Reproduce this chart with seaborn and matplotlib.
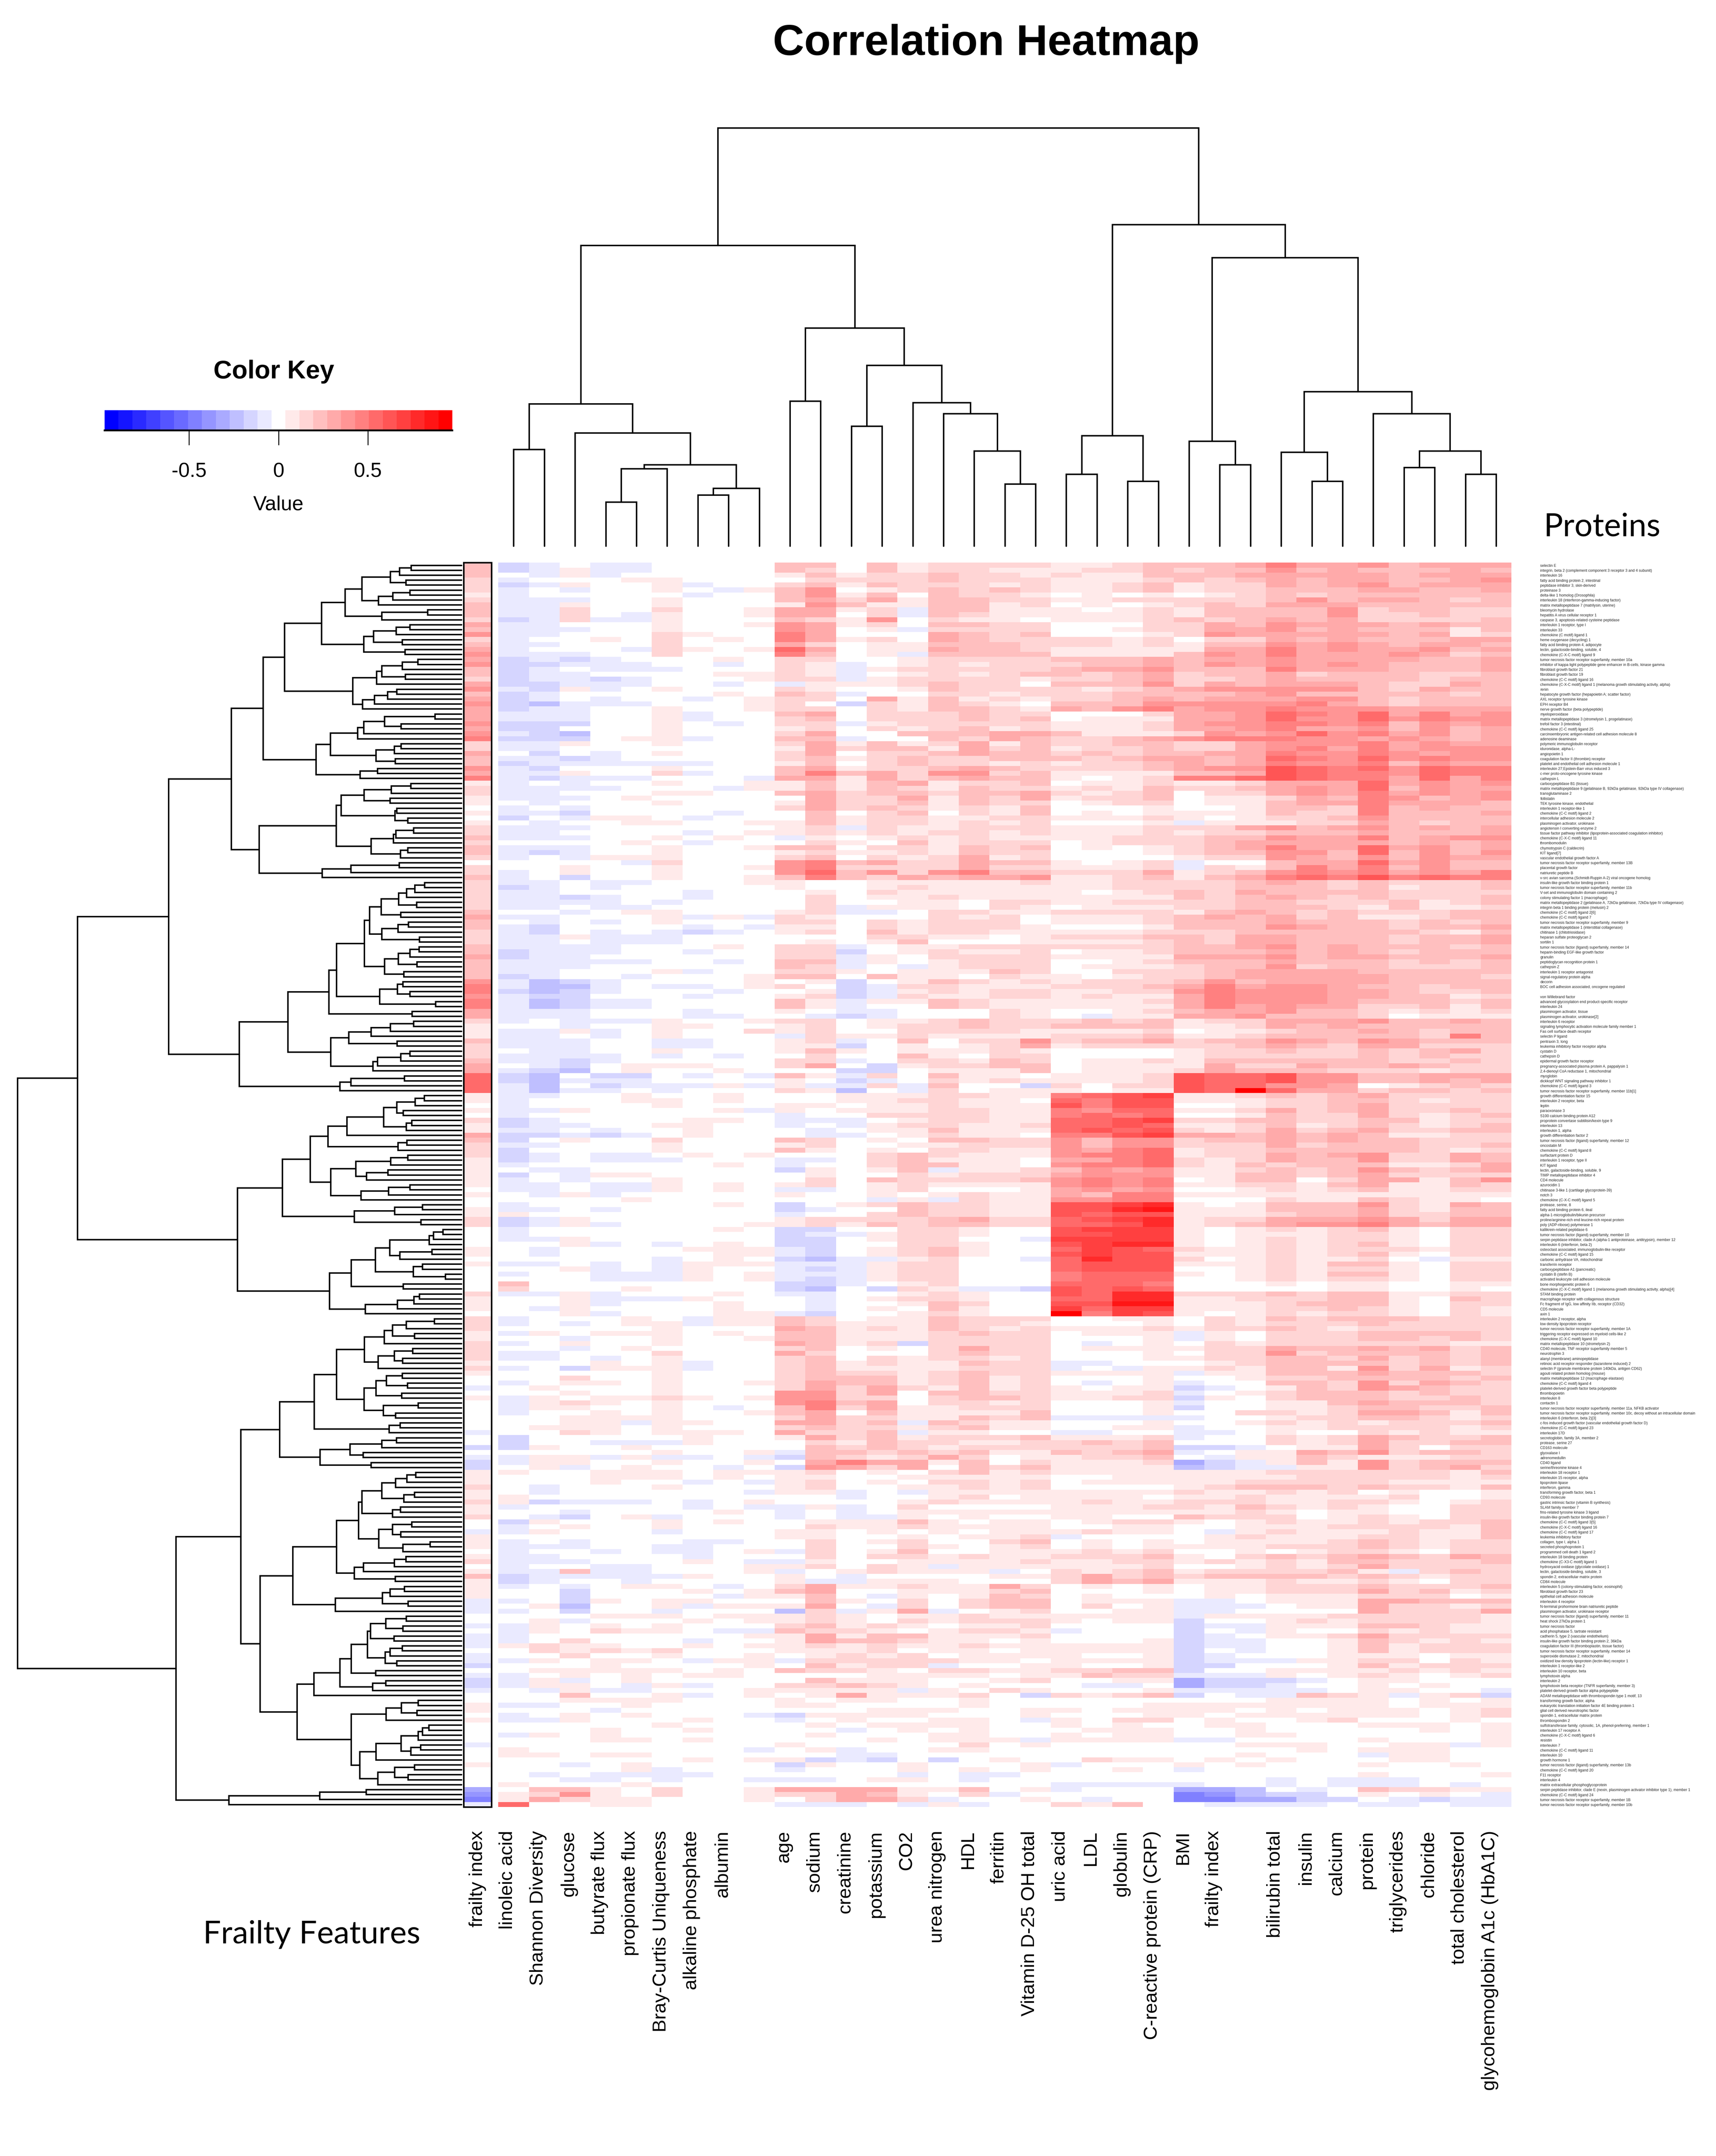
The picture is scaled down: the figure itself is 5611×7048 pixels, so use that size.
import numpy as np
import pandas as pd
import matplotlib
matplotlib.use("Agg")
import matplotlib.pyplot as plt
from matplotlib.colors import ListedColormap
from matplotlib.transforms import ScaledTranslation
import seaborn as sns

# column labels, the two blanks are unlabelled columns in the original
col_labels = ["linoleic acid", "Shannon Diversity", "glucose", "butyrate flux", "propionate flux",
              "Bray-Curtis Uniqueness", "alkaline phosphate", "albumin", "", "age", "sodium", "creatinine",
              "potassium", "CO2", "urea nitrogen", "HDL", "ferritin", "Vitamin D-25 OH total", "uric acid",
              "LDL", "globulin", "C-reactive protein (CRP)", "BMI", "frailty index", "", "bilirubin total",
              "insulin", "calcium", "protein", "triglycerides", "chloride", "total cholesterol",
              "glycohemoglobin A1c (HbA1C)"]

row_labels = [
    "selectin E", "integrin, beta 2 (complement component 3 receptor 3 and 4 subunit)", "interleukin 16",
    "fatty acid binding protein 2, intestinal", "peptidase inhibitor 3, skin-derived", "proteinase 3",
    "delta-like 1 homolog (Drosophila)", "interleukin 18 (interferon-gamma-inducing factor)",
    "matrix metallopeptidase 7 (matrilysin, uterine)", "bleomycin hydrolase", "hepatitis A virus cellular receptor 1",
    "caspase 3, apoptosis-related cysteine peptidase", "interleukin 1 receptor, type I", "interleukin 33",
    "chemokine (C motif) ligand 1", "heme oxygenase (decycling) 1", "fatty acid binding protein 4, adipocyte",
    "lectin, galactoside-binding, soluble, 4", "chemokine (C-X-C motif) ligand 9",
    "tumor necrosis factor receptor superfamily, member 10a",
    "inhibitor of kappa light polypeptide gene enhancer in B-cells, kinase gamma", "fibroblast growth factor 21",
    "fibroblast growth factor 19", "chemokine (C-C motif) ligand 16",
    "chemokine (C-X-C motif) ligand 1 (melanoma growth stimulating activity, alpha)", "renin",
    "hepatocyte growth factor (hepapoietin A; scatter factor)", "AXL receptor tyrosine kinase",
    "EPH receptor B4", "nerve growth factor (beta polypeptide)", "myeloperoxidase",
    "matrix metallopeptidase 3 (stromelysin 1, progelatinase)", "trefoil factor 3 (intestinal)",
    "chemokine (C-C motif) ligand 25", "carcinoembryonic antigen-related cell adhesion molecule 8",
    "adenosine deaminase", "polymeric immunoglobulin receptor", "iduronidase, alpha-L-", "angiopoietin 1",
    "coagulation factor II (thrombin) receptor", "platelet and endothelial cell adhesion molecule 1",
    "interleukin 27;Epstein-Barr virus induced 3", "c-mer proto-oncogene tyrosine kinase", "cathepsin L",
    "carboxypeptidase B1 (tissue)", "matrix metallopeptidase 9 (gelatinase B, 92kDa gelatinase, 92kDa type IV collagenase)",
    "transglutaminase 2", "follistatin", "TEK tyrosine kinase, endothelial", "interleukin 1 receptor-like 1",
    "chemokine (C-C motif) ligand 2", "intercellular adhesion molecule 2", "plasminogen activator, urokinase",
    "angiotensin I converting enzyme 2", "tissue factor pathway inhibitor (lipoprotein-associated coagulation inhibitor)",
    "chemokine (C-X-C motif) ligand 11", "thrombomodulin", "chymotrypsin C (caldecrin)", "KIT ligand[7]",
    "vascular endothelial growth factor A", "tumor necrosis factor receptor superfamily, member 13B",
    "placental growth factor", "natriuretic peptide B", "v-src avian sarcoma (Schmidt-Ruppin A-2) viral oncogene homolog",
    "insulin-like growth factor binding protein 1", "tumor necrosis factor receptor superfamily, member 11b",
    "V-set and immunoglobulin domain containing 2", "colony stimulating factor 1 (macrophage)",
    "matrix metallopeptidase 2 (gelatinase A, 72kDa gelatinase, 72kDa type IV collagenase)",
    "integrin beta 1 binding protein (melusin) 2", "chemokine (C-C motif) ligand 2[6]", "chemokine (C-C motif) ligand 7",
    "tumor necrosis factor receptor superfamily, member 9", "matrix metallopeptidase 1 (interstitial collagenase)",
    "chitinase 1 (chitotriosidase)", "heparan sulfate proteoglycan 2", "sortilin 1",
    "tumor necrosis factor (ligand) superfamily, member 14", "heparin-binding EGF-like growth factor", "granulin",
    "peptidoglycan recognition protein 1", "cathepsin Z", "interleukin 1 receptor antagonist",
    "signal-regulatory protein alpha", "decorin", "BOC cell adhesion associated, oncogene regulated", "",
    "von Willebrand factor", "advanced glycosylation end product-specific receptor", "interleukin 24",
    "plasminogen activator, tissue", "plasminogen activator, urokinase[2]", "interleukin 6 receptor",
    "signaling lymphocytic activation molecule family member 1", "Fas cell surface death receptor", "selectin P ligand",
    "pentraxin 3, long", "leukemia inhibitory factor receptor alpha", "cystatin D", "cathepsin D",
    "epidermal growth factor receptor", "pregnancy-associated plasma protein A, pappalysin 1",
    "2,4-dienoyl CoA reductase 1, mitochondrial", "myoglobin", "dickkopf WNT signaling pathway inhibitor 1",
    "chemokine (C-C motif) ligand 3", "tumor necrosis factor receptor superfamily, member 11b[1]",
    "growth differentiation factor 15", "interleukin 2 receptor, beta", "leptin", "paraoxonase 3",
    "S100 calcium binding protein A12", "proprotein convertase subtilisin/kexin type 9", "interleukin 13",
    "interleukin 1, alpha", "growth differentiation factor 2", "tumor necrosis factor (ligand) superfamily, member 12",
    "oncostatin M", "chemokine (C-C motif) ligand 8", "surfactant protein D", "interleukin 1 receptor, type II",
    "KIT ligand", "lectin, galactoside-binding, soluble, 9", "TIMP metallopeptidase inhibitor 4", "CD4 molecule",
    "azurocidin 1", "chitinase 3-like 1 (cartilage glycoprotein-39)", "notch 3", "chemokine (C-X-C motif) ligand 5",
    "protease, serine, 8", "fatty acid binding protein 6, ileal", "alpha-1-microglobulin/bikunin precursor",
    "proline/arginine-rich end leucine-rich repeat protein", "poly (ADP-ribose) polymerase 1",
    "kallikrein-related peptidase 6", "tumor necrosis factor (ligand) superfamily, member 10",
    "serpin peptidase inhibitor, clade A (alpha-1 antiproteinase, antitrypsin), member 12",
    "interleukin 6 (interferon, beta 2)", "osteoclast associated, immunoglobulin-like receptor",
    "chemokine (C-C motif) ligand 15", "carbonic anhydrase VA, mitochondrial", "transferrin receptor",
    "carboxypeptidase A1 (pancreatic)", "cystatin B (stefin B)", "activated leukocyte cell adhesion molecule",
    "bone morphogenetic protein 6", "chemokine (C-X-C motif) ligand 1 (melanoma growth stimulating activity, alpha)[4]",
    "STAM binding protein", "macrophage receptor with collagenous structure",
    "Fc fragment of IgG, low affinity IIb, receptor (CD32)", "CD5 molecule", "axin 1", "interleukin 2 receptor, alpha",
    "low density lipoprotein receptor", "tumor necrosis factor receptor superfamily, member 1A",
    "triggering receptor expressed on myeloid cells-like 2", "chemokine (C-X-C motif) ligand 10",
    "matrix metallopeptidase 10 (stromelysin 2)", "CD40 molecule, TNF receptor superfamily member 5", "neurotrophin 3",
    "alanyl (membrane) aminopeptidase", "retinoic acid receptor responder (tazarotene induced) 2",
    "selectin P (granule membrane protein 140kDa, antigen CD62)", "agouti related protein homolog (mouse)",
    "matrix metallopeptidase 12 (macrophage elastase)", "chemokine (C-C motif) ligand 4",
    "platelet-derived growth factor beta polypeptide", "thrombopoietin", "interleukin 8", "contactin 1",
    "tumor necrosis factor receptor superfamily, member 11a, NFKB activator",
    "tumor necrosis factor receptor superfamily, member 10c, decoy without an intracellular domain",
    "interleukin 6 (interferon, beta 2)[3]", "c-fos induced growth factor (vascular endothelial growth factor D)",
    "chemokine (C-C motif) ligand 23", "interleukin 17D", "secretoglobin, family 3A, member 2", "protease, serine 27",
    "CD163 molecule", "glyoxalase I", "adrenomedullin", "CD40 ligand", "serine/threonine kinase 4",
    "interleukin 18 receptor 1", "interleukin 15 receptor, alpha", "lipoprotein lipase", "interferon, gamma",
    "transforming growth factor, beta 1", "CD93 molecule", "gastric intrinsic factor (vitamin B synthesis)",
    "SLAM family member 7", "fms-related tyrosine kinase 3 ligand", "insulin-like growth factor binding protein 7",
    "chemokine (C-C motif) ligand 3[5]", "chemokine (C-X-C motif) ligand 16", "chemokine (C-C motif) ligand 17",
    "leukemia inhibitory factor", "collagen, type I, alpha 1", "secreted phosphoprotein 1",
    "programmed cell death 1 ligand 2", "interleukin 18 binding protein", "chemokine (C-X3-C motif) ligand 1",
    "hydroxyacid oxidase (glycolate oxidase) 1", "lectin, galactoside-binding, soluble, 3",
    "spondin 2, extracellular matrix protein", "CD84 molecule", "interleukin 5 (colony-stimulating factor, eosinophil)",
    "fibroblast growth factor 23", "epithelial cell adhesion molecule", "interleukin 4 receptor",
    "N-terminal prohormone brain natriuretic peptide", "plasminogen activator, urokinase receptor",
    "tumor necrosis factor (ligand) superfamily, member 11", "heat shock 27kDa protein 1", "tumor necrosis factor",
    "acid phosphatase 5, tartrate resistant", "cadherin 5, type 2 (vascular endothelium)",
    "insulin-like growth factor binding protein 2, 36kDa", "coagulation factor III (thromboplastin, tissue factor)",
    "tumor necrosis factor receptor superfamily, member 14", "superoxide dismutase 2, mitochondrial",
    "oxidized low density lipoprotein (lectin-like) receptor 1", "interleukin 1 receptor-like 2",
    "interleukin 10 receptor, beta", "lymphotoxin alpha", "interleukin 2",
    "lymphotoxin beta receptor (TNFR superfamily, member 3)", "platelet-derived growth factor alpha polypeptide",
    "ADAM metallopeptidase with thrombospondin type 1 motif, 13", "transforming growth factor, alpha",
    "eukaryotic translation initiation factor 4E binding protein 1", "glial cell derived neurotrophic factor",
    "spondin 1, extracellular matrix protein", "thrombospondin 2",
    "sulfotransferase family, cytosolic, 1A, phenol-preferring, member 1", "interleukin 17 receptor A",
    "chemokine (C-X-C motif) ligand 6", "resistin", "interleukin 7", "chemokine (C-C motif) ligand 11", "interleukin 10",
    "growth hormone 1", "tumor necrosis factor (ligand) superfamily, member 13b", "chemokine (C-C motif) ligand 20",
    "F11 receptor", "interleukin 4", "matrix extracellular phosphoglycoprotein",
    "serpin peptidase inhibitor, clade E (nexin, plasminogen activator inhibitor type 1), member 1",
    "chemokine (C-C motif) ligand 24", "tumor necrosis factor receptor superfamily, member 1B",
    "tumor necrosis factor receptor superfamily, member 10b",
]

# cell values as colour key steps, 0-9 then a b c for +10..+12, A B C ... for -1 -2 -3 ...
rows_a = [
    "BA0AA0000330312222112333464453444", "BA1AA0000320312211122323353433343", "0A1A00000131223221211333444443444",
    "A00011000022223222111232343443345", "BA1001A00231322212112312243453444", "A0A0010A1350123232112312233344334",
    "A00000A00351303221010101232333333", "AAA001000342413322112222235344323", "AA1001000153113312010123244433333",
    "AA2002001" "4412A3311" "1012133" "33523322", "AA20A1001" "4402A3211" "1112133" "33522322",
    "BA2AA1000" "321502110" "1112323" "43422223", "AA0001001" "541203322" "0002243" "54443433",
    "AAA001000" "5401A2222" "0012244" "53433313", "AA0002100" "640004323" "0001254" "44443412",
    "A00102010" "641204322" "2212022" "43433344", "AA0002000" "420113332" "2212133" "54543443",
    "A000A2101" "740114332" "1111144" "64544534", "AAA002000" "6301A3333" "1111354" "64445423",
    "BABA00010" "220012222" "3334344" "54444334", "BBAAA00A0" "21A012122" "2334354" "54543334",
    "BA0AAA000" "21A122222" "3445333" "64443334", "BAA000011" "21A012123" "3234233" "42333223",
    "BAABA0001" "22A122221" "2234223" "43333233", "BBAAA00A0" "A11123220" "3335243" "44432243",
    "AB1A01000" "210013222" "2123455" "55532433", "BA0000010" "32A002212" "2233334" "53333323",
    "BA0A00A01" "220413121" "2234344" "45532333", "BCAAA0001" "20B213210" "3335555" "56432333",
    "BAA001001" "220213321" "4356455" "65554444", "AAA001A00" "340222322" "0002445" "76574645",
    "AAA001A00" "230222323" "0111445" "75575655", "BBB0010A0" "22A122222" "1112455" "66563545",
    "BB0001000" "120212312" "1112445" "64453534", "ABC001000" "240033344" "3111254" "57564534",
    "BBB011A00" "33A003243" "2234566" "65545434", "AA1001000" "241312413" "2233224" "55564544",
    "AA0000000" "142331423" "1223224" "56464555", "0B0A01000" "240223433" "2323344" "65565455",
    "AABA00000" "231232233" "3234434" "76575655", "BAAAAAA00" "130232212" "1223434" "65563544",
    "AB0001000" "341223432" "2223455" "87675766", "AA1002A00" "363425523" "1111334" "87665766",
    "ABAAA000A" "441423433" "1012667" "87664746", "A0A001001" "131341223" "0112112" "44474545",
    "AAAA000A1" "131321322" "1213223" "45473544", "AA0001100" "342332334" "2123022" "45464545",
    "AAA010000" "042241324" "1223011" "24365345", "0A0001000" "142231322" "0122011" "34464443",
    "A0A000000" "242321213" "0001001" "33263433", "AAB0000A0" "030230213" "0101111" "32263334",
    "B0A110A00" "031221122" "1112101" "22353333", "0A0011001" "131221212" "0001A11" "12243233",
    "AAA000000" "12A211222" "1112224" "53453434", "AA0000A01" "121212212" "1112122" "33343334",
    "AAA001010" "A10121211" "1122233" "54463455", "000010A00" "021031222" "0122234" "44443434",
    "AAA001001" "330221323" "0101234" "64474534", "ABA001000" "121121322" "0001233" "55373535",
    "A0A111000" "230212412" "0000122" "54353544", "0000A2000" "563422433" "1012A00" "34474533",
    "001001001" "562222422" "1112A21" "36463533", "A01001000" "573525633" "2224123" "56564546",
    "A0B001001" "363243445" "1123134" "67686766",
]
rows_b = [
    "AA0AA0001" "100111112" "1122223" "43232223", "BA0A00000" "100121111" "1122223" "33231223",
    "AA0000A00" "010211111" "1012324" "33332222", "AABA00A00" "020112111" "1111323" "43232223",
    "AAAA0A000" "020011022" "1122223" "32223123", "AA0AA0000" "02A111021" "0111223" "33213112",
    "00A011000" "12AA02211" "2222134" "32322233", "AA0001A1A" "210002120" "1112343" "42311233",
    "0A0A01000" "220212220" "1112333" "43332323", "AB0000A0A" "110212221" "0001333" "54332334",
    "AB0A0ABA0" "120312211" "1112223" "33333213", "AA1AAA000" "000221101" "2223324" "43332334",
    "AA0AAA000" "010130001" "1112324" "43332334", "AAAA00010" "22A011222" "2222334" "53433323",
    "BAAA00A00" "22B012112" "0112333" "43432333", "BAA000000" "22A102222" "1111444" "53443334",
    "AAAAA00A0" "33A101222" "0012333" "43332323", "AAA000000" "32A0A1222" "0111233" "52332223",
    "AA0001A00" "221011132" "0022234" "44433333", "BA00A0001" "330311021" "1012234" "44443332",
    "ACBA00001" "01B013212" "1222353" "44443333", "ACCA0AA01" "20BA22111" "2223464" "55433233",
    "BCBA000A0" "01BA12122" "1122565" "55443223", "ABB000A00" "12BA21122" "1211465" "55443312",
    "ACBAA0000" "31A113211" "1112465" "55433323", "ACBAA0000" "31A003211" "1111464" "54422313",
    "AAA000A00" "10AA00021" "0012344" "53321212", "AAA000AA0" "0ABA00021" "0A11445" "33320111",
    "A0AAA1001" "220112322" "2323122" "44453343", "00A001100" "120122322" "3333112" "43433333",
    "AA1A01002" "120022221" "1112011" "23343233", "AA0A01000" "A21121111" "2223112" "33333263",
    "AAA00AA00" "12A030225" "2334233" "54354333", "AAA00AA00" "11B010124" "1222223" "43244222",
    "0AA001000" "131011121" "0000122" "32232342", "AAAA0A0A0" "020031022" "0000122" "22232322",
    "AABA00000" "22A022132" "0112133" "33332232", "0AB011100" "240B12233" "0111142" "24334322",
    "ABC010010" "00BB01113" "0111243" "33222122", "BC0BB0A0A" "31A203110" "1112877" "85533444",
    "BCAAA0000" "10BA02121" "1112877" "85533434", "AC0BAAA1A" "1AA2A300B" "2022877" "55401232",
    "ACAA0A000" "21C0A2011" "101187c" "74423323", "AA0010010" "001112211" "6789112" "32342222",
    "A00011010" "001122110" "7688111" "22332122", "A00001000" "110112111" "8688001" "22342222",
    "AA100001A" "101112211" "6577112" "42342232", "A00000000" "A00222211" "6767001" "32242123",
    "BA0000110" "AAA012211" "7789223" "32233122", "BAA001100" "A0A122112" "7787112" "31232123",
    "AA0A00100" "0A0113111" "7878212" "42342233", "BBABA0100" "0AA012110" "6689443" "43431122",
    "B01002000" "320103322" "5355233" "43433222", "AA0001000" "120011222" "5355222" "42333223",
    "B00001000" "310102211" "5467122" "33333212", "BA0AA0101" "000232111" "5667122" "43452243",
    "BA0AAA000" "AA0231110" "4467212" "43352243", "A00000010" "A00233110" "5667213" "23331124",
    "0AA000000" "B1013A112" "3545112" "32353234", "B0A110000" "010021222" "4555113" "32342222",
    "A0A001000" "020322223" "5656013" "30244135", "AA0AA1010" "120121111" "5656112" "21341132",
    "AA0AA1010" "AA0120001" "4545001" "21231122", "0A1A00000" "100101211" "4366111" "11111111",
]
rows_c = [
    "000010000" "000A1A211" "5566000" "21132110", "A00000010" "B01232211" "889a101" "33352143",
    "AA0A00000" "BA0032211" "88ab111" "33342133", "100000000" "A00232211" "8788111" "23342233",
    "BA1000000" "122223422" "789a122" "44454244", "BA1A00001" "121323322" "778a123" "45564344",
    "A00000010" "BB0022100" "8999101" "21231022", "A00000000" "BAA122100" "8899101" "11221022",
    "AA1000000" "BB012200A" "9999101" "21221022", "001A0A010" "BB0022100" "89aa101" "21231022",
    "0A0000111" "AB0123100" "7987211" "21222122", "0A0000011" "AB0123100" "8988111" "21231022",
    "00000A010" "BCAA1200A" "7a88201" "21120A11", "AA0A0A111" "AAA122000" "7888111" "21331022",
    "001A0A100" "ABA122000" "7888001" "21221022", "A00AAA101" "AAA122000" "6777101" "21331022",
    "000AAA101" "ABA122000" "6777001" "21221022", "300000000" "BBA012000" "7776000" "10110011",
    "200010000" "BC0B21AAB" "8787000" "00110010", "AA1A00010" "AA0012100" "87aa222" "32331122",
    "001AAA100" "0A0122100" "77aa112" "22331032", "001A00010" "0A0013200" "88bb111" "23331022",
    "0A1000010" "0A0103100" "9799111" "22321021", "001A00011" "AB0012100" "c698101" "21221021",
    "A00010A11" "320113222" "0011021" "32333222", "A0A011A11" "321113221" "0001021" "22232222",
    "000001000" "431213212" "1112122" "32122222", "A10111010" "331112322" "0111A10" "22233332",
    "00A001001" "331112222" "0001A10" "22233232", "A01001000" "4312B2222" "0A01021" "22222211",
    "00A010000" "230102422" "0111122" "43343423", "AA0002000" "420002322" "0001022" "52333323",
    "AA0A01000" "230212212" "0001122" "33242323", "000101A00" "231211322" "AA00012" "33332323",
    "A0B111A00" "231111222" "A0A1121" "33152412", "000001000" "232212322" "1111A11" "33343332",
    "002001000" "233312312" "0001001" "22333323", "A01101001" "243312312" "0A01A00" "33252432",
    "010001000" "242421312" "1011BA0" "13254322", "001001000" "552403322" "1112A01" "23332322",
    "A10112101" "552202332" "1122B10" "23332232", "A12101000" "563402212" "0001A00" "11343332",
    "A110010A0" "362411222" "0001B00" "11233223", "A00101001" "340311113" "0001002" "21244313",
    "001111000" "242211323" "AAAAA00" "12233212", "0011A1100" "4423A3211" "0001001" "21212223",
    "011101000" "232212311" "0011A00" "11222212", "002101110" "4223A1100" "AA00AA0" "10021211",
    "B00000100" "142312223" "1112A00" "21243223", "B00AAA100" "021322112" "2323000" "21242233",
    "B10010000" "032321222" "2223BBA" "01142022", "000001001" "A33232311" "3234A01" "14352332",
    "A11A1AA0A" "B32124201" "12230A1" "13211122", "A11001001" "046441302" "1112DBA" "13152333",
    "01A0100A0" "B54240323" "1111CBA" "A1152342", "100111011" "120102312" "1111111" "22222213",
    "000111010" "110011111" "0011111" "12222212", "000100A0A" "120102212" "0111112" "22221111",
    "0A0001000" "120011212" "0000123" "33232213", "0A000000A" "11A0A1111" "1111211" "21201001",
    "100000000" "00A001201" "1110112" "11112001", "1BAAA0A01" "000012111" "1211222" "11221012",
    "A00000A0A" "A1A020000" "1112213" "21210022", "00A000010" "A0A011111" "1111112" "10110022",
    "0AB01A000" "A0AA10100" "1100322" "20121022",
]
rows_d = [
    "B10001010" "011131011" "0122101" "21121223", "A01001000" "021121111" "0011001" "11222213",
    "A1000A000" "110101011" "12110A1" "21112113", "000000000" "110010112" "A000012" "11122113",
    "A0A000AA0" "020120023" "0101011" "11232122", "AAA00AA00" "020021012" "0101111" "22232122",
    "A00A0AA01" "A20130011" "1212001" "01221022", "AA0000A00" "020221211" "2223102" "32343243",
    "AAA00010A" "A10011112" "1122121" "21332223", "A00AA0001" "12021A111" "1112001" "21242222",
    "AA3AA0001" "A012111A0" "2123122" "2231A232", "BAAAAA100" "10A000011" "2423233" "33232122",
    "BA00A0000" "1AA111000" "2434111" "21121022", "A0A0110A0" "241121142" "0101011" "22232223",
    "00B000101" "340011123" "0001011" "22242312", "00B0000A1" "130A10132" "0100010" "11122201",
    "A0B101100" "031020233" "0111AA0" "11144333", "01C001A11" "140A20233" "0201AAA" "01142212",
    "A0B00A000" "C2A14A012" "0011AA0" "00042224", "000111011" "121011211" "1111A11" "11222221",
    "01A000101" "121021222" "1011B00" "12122221", "A10101000" "231210112" "0000BAA" "11133211",
    "A102110AA" "322101221" "A000B0A" "10021211", "A00000001" "141331112" "0000BA0" "11242222",
    "A02000A00" "143321101" "0001BAA" "00132121", "121100101" "121211211" "1111BAA" "00131222",
    "021212000" "111201101" "1111B0A" "00131222", "002001001" "012120111" "1001BA0" "00111011",
    "A10110A11" "A22222110" "1111BAA" "A1122021", "000100001" "03122A001" "1001BB0" "00131222",
    "011111010" "322102211" "2233B00" "11112121", "A01010110" "000111101" "1322AAA" "10121012",
    "A1A010000" "031110012" "0011DBB" "BA011000", "A110A1A00" "223210100" "0AA0DBB" "A0010100",
    "0A1AA0001" "1111A1021" "0001AAA" "AA01100A", "003001A01" "01411120B" "2123B0A" "A321A12B",
    "001111000" "101100100" "0000000" "11110101", "AA0010000" "110000100" "0001111" "11110111",
    "000A00000" "000111001" "1011110" "10111012", "A0101000A" "B11110001" "0001101" "11111012",
    "AA1000100" "A0100110A" "1022010" "01200010", "000001000" "010111100" "1010011" "00011101",
    "000100100" "00A010100" "0111001" "00000101", "A10100000" "010001100" "1011001" "10000001",
    "000110100" "00010111A" "1111AA0" "00010001", "000000000" "100000201" "0000001" "110011A1",
    "10000000A" "01A001100" "0000000" "01011100", "110110000" "00AA00000" "0000001" "000A1100",
    "000000101" "1BAB0B010" "0211010" "10001100", "00A010000" "B10010001" "A000101" "00010010",
    "00001A000" "A00010101" "0010A00" "00000000", "0A0AAAA00" "0000A0AA0" "0000000" "00010001",
    "00AA0A00A" "AA0110A00" "0000000" "A0AAA000", "100010000" "000000000" "AAAAA00" "A0AAA0A0",
    "033102001" "444411301" "A000DDC" "0A032211", "125102001" "2243102A0" "0000FEC" "BB01010A",
    "142110001" "02442A001" "0A00FFD" "DBB0ABAA", "700110000" "AAA0A1A00" "21300AA" "AA0AA0AA",
]
frailty_col = ("3332221233" "3243523454" "5332453454" "4454562243" "3546122110" "1012232332" "0223222222"
               "3433222334" "3333566566" "4421113222" "3447777110" "1021143222" "1111110100" "1122000011"
               "0100000211" "1022211222" "212100A010" "00000A00B0" "ABB1112112" "11200A1110" "120131111A"
               "AA00A0AAA0" "AAB0ABBA00" "11010000A0" "0010000DEFA")

# clustering trees, each node is (height, left, right), 0 is a leaf
branch_a = (552, (437, (363, (311, (222, (194, (157, 0, 0), 0), (174, 0, 0)),
                            (259, (215, (161, 0, 0), 0), 0)),
                       (249, (106, 0, 0), 0)),
                  (305, (275, (204, (161, 0, 0), 0), (185, 0, 0)), (176, 0, 0))),
             (340, (265, (249, (185, (136, 0, 0), 0), (175, 0, 0)), 0),
                   (309, (272, (231, (202, 0, 0), 0), 0), 0)))
branch_b = (454, (409, (324, (305, (240, (83, 0, 0), (189, 0, 0)), 0), 0),
                  (267, (210, (189, 0, 0), 0), (207, 0, 0))),
             (317, (262, 0, 0), 0))
branch_c = (632, (391, (376, (304, (219, (158, 0, 0), 0), (223, 0, 0)),
                        (208, (202, 0, 0), (168, 0, 0))),
                  (282, (213, (205, (150, 0, 0), 0), 0), (191, (168, 0, 0), 0))),
             (435, (345, (195, 0, 0), 0), 0))
branch_d = (414, (390, (303, (287, (251, (196, (172, (146, (115, 0, 0), 0), 0), (140, 0, 0)), (190, 0, 0)),
                              (249, (198, (166, 0, 0), 0), (132, 0, 0))),
                        (240, (197, (161, (133, 0, 0), 0), (139, 0, 0)), (180, 0, 0))),
                  (256, (200, (183, 0, 0), (161, 0, 0)), (81, 0, 0))),
             (154, 0, 0))
branch_e = (408, (352, (282, (222, (150, 0, 0), 0), 0), (201, 0, 0)),
             (277, (262, (190, (161, 0, 0), 0), 0), 0))
branch_f = (559, (472, (417, (358, (243, (202, (145, (116, 0, 0), 0), (182, 0, 0)), (173, (155, 0, 0), 0)), 0),
                        (198, (171, 0, 0), 0)),
                  (408, (330, (221, (168, 0, 0), 0), (297, (230, 0, 0), 0)),
                        (314, (228, (161, 0, 0), 0), 0))),
             (335, (209, (122, 0, 0), 0), (127, 0, 0)))
branch_g = (412, (344, (269, (224, (101, (88, (58, 0, 0), 0), 0), (193, (92, 0, 0), 0)),
                        (151, (122, 0, 0), (50, 0, 0))),
                  (182, 0, 0)),
             (300, (200, (149, (132, 0, 0), 0), 0), 0))
branch_h = (568, (460, (390, (303, (241, (216, (173, (85, 0, 0), 0), (147, 0, 0)), 0),
                              (260, (210, (153, 0, 0), (184, 0, 0)), 0)),
                        (304, (267, (235, (185, 0, 0), (169, 0, 0)), (187, 0, 0)),
                              (244, (135, 0, 0), (206, 0, 0)))),
                  (226, (192, 0, 0), 0)),
             (442, (348, (249, (203, 0, 0), 0), (307, 0, 0)), (282, 0, 0)))
branch_i = (527, (390, (321, (311, (249, (206, (171, (143, 0, 0), 0), 0), (180, (147, 0, 0), 0)),
                              (216, (191, 0, 0), 0)),
                        (258, (216, (155, 0, 0), (190, 0, 0)), (183, (98, 0, 0), 0))),
                  (335, (306, (210, (174, 0, 0), 0), 0), (207, 0, 0))),
             (394, (247, (223, (178, 0, 0), 0), (167, 0, 0)), 0))
branch_j = (513, (461, (380, (344, (294, (284, (237, (173, 0, 0), (183, 0, 0)), (211, 0, 0)),
                                    (238, (223, (185, 0, 0), 0), (202, 0, 0))),
                              (268, 0, 0)),
                        (278, (237, 0, 0), 0)), 0),
             (344, (236, (188, (135, 0, 0), (139, 0, 0)), 0),
                   (318, (267, (189, (135, (122, (102, 0, 0), 0), 0), (158, (128, 0, 0), 0)), 0),
                         (261, (209, (147, 0, 0), (167, 0, 0)), 0))))
branch_k = (726, (443, (298, 0, 0), 0), 0)

row_tree = (1385,
            (1198,
             (914, (718, (619, branch_a, branch_b), branch_c),
                   (694, (542, branch_d, branch_e), (380, (345, (178, 0, 0), 0), 0))),
             (699, branch_f, branch_g)),
            (891, (689, branch_h, (629, branch_i, branch_j)), branch_k))

col_tree = (303,
            (218,
             (103, (70, 0, 0), (82, 0, (59, (56, (32, 0, 0), 0), (42, (37, 0, 0), 0)))),
             (158, (105, 0, 0), (131, (87, 0, 0), (104, 0, (96, 0, (69, 0, (45, 0, 0))))))),
            (233,
             (80, (52, 0, 0), (47, 0, 0)),
             (209, (76, 0, (59, 0, 0)),
                   (112, (68, 0, (47, 0, 0)), (96, 0, (69, (57, 0, 0), (52, 0, 0)))))))

key_ticks = [-0.5, 0, 0.5]
key_step = 0.0778

# layout is measured on the 5876 wide original, saved a little smaller so the png stays readable
FIG_W, FIG_H = 5876, 7381
SAVE_DPI = 95.5
sns.set_theme(style="white")
plt.rcParams['font.family'] = ['Liberation Sans', 'DejaVu Sans']


def decode(text):
    out = []
    for ch in text:
        if ch.isdigit():
            out.append(int(ch))
        elif ch.islower():
            out.append(ord(ch) - ord('a') + 10)
        else:
            out.append(-(ord(ch) - ord('A') + 1))
    return out


def px_axes(x0, y0, x1, y1):
    # axes placed by pixel box, y counted from the top
    return fig.add_axes([x0 / FIG_W, 1 - y1 / FIG_H, (x1 - x0) / FIG_W, (y1 - y0) / FIG_H])


def px_text(x, y, s, **kw):
    fig.text(x / FIG_W, 1 - y / FIG_H, s, **kw)


def draw_tree(ax, node, counter, horizontal):
    # returns (leaf position, height), draws the links on the way back up
    if node == 0:
        counter[0] += 1
        return counter[0] - 0.5, 0
    h, left, right = node
    p0, h0 = draw_tree(ax, left, counter, horizontal)
    p1, h1 = draw_tree(ax, right, counter, horizontal)
    pos = [p0, p0, p1, p1]
    hts = [h0, h, h, h1]
    if horizontal:
        ax.plot(hts, pos, color='black', lw=3.6, solid_joinstyle='miter', clip_on=False)
    else:
        ax.plot(pos, hts, color='black', lw=3.6, solid_joinstyle='miter', clip_on=False)
    return (p0 + p1) / 2, h


steps = np.arange(-12, 13)
colors = [(1 + min(k, 0) / 12, 1 - abs(k) / 12, 1 - max(k, 0) / 12) for k in steps]
key_cmap = ListedColormap(colors)
key_max = 12.5 * key_step

all_rows = rows_a + rows_b + rows_c + rows_d
levels = np.array([decode(r.ljust(33, '0')[:33]) for r in all_rows])
data = pd.DataFrame(levels * key_step, index=row_labels, columns=col_labels)
frailty = pd.DataFrame(np.array(decode(frailty_col)) * key_step, index=row_labels, columns=["frailty index"])

fig = plt.figure(figsize=(FIG_W / 100, FIG_H / 100), dpi=100, facecolor='white')

# main heatmap
ax = px_axes(1706, 1927, 5175, 6186)
sns.heatmap(data, ax=ax, cmap=key_cmap, vmin=-key_max, vmax=key_max, cbar=False,
            xticklabels=col_labels, yticklabels=row_labels)
ax.set_xlabel("")
ax.set_ylabel("")
ax.yaxis.tick_right()
ax.tick_params(axis='y', length=0, pad=71, labelsize=9.2, labelrotation=0)
ax.tick_params(axis='x', length=0, pad=58, labelsize=47, labelrotation=90, labelcolor='black')
# the labels sit a little left of their column centres in the original
label_shift = ScaledTranslation(-0.21, 0, fig.dpi_scale_trans)
for t in ax.get_xticklabels():
    t.set_verticalalignment('top')
    t.set_horizontalalignment('center')
    t.set_transform(t.get_transform() + label_shift)

# frailty index side strip
ax_s = px_axes(1587, 1927, 1683, 6186)
sns.heatmap(frailty, ax=ax_s, cmap=key_cmap, vmin=-key_max, vmax=key_max, cbar=False,
            xticklabels=["frailty index"], yticklabels=False)
ax_s.set_ylabel("")
ax_s.tick_params(axis='x', length=0, pad=58, labelsize=47, labelrotation=90, labelcolor='black')
for t in ax_s.get_xticklabels():
    t.set_verticalalignment('top')
for sp in ax_s.spines.values():
    sp.set_visible(True)
    sp.set_color('black')
    sp.set_linewidth(3.8)

# row dendrogram
ax_r = px_axes(60, 1927, 1580, 6186)
draw_tree(ax_r, row_tree, [0], True)
ax_r.set_xlim(1385, 0)
ax_r.set_ylim(len(row_labels), 0)
ax_r.axis('off')

# column dendrogram
ax_c = px_axes(1706, 439, 5175, 1870)
draw_tree(ax_c, col_tree, [0], False)
ax_c.set_xlim(0, len(col_labels))
ax_c.set_ylim(0, 303)
ax_c.axis('off')

# colour key
ax_k = px_axes(358, 1405, 1549, 1474)
sns.heatmap((steps * key_step).reshape(1, -1), ax=ax_k, cmap=key_cmap, vmin=-key_max, vmax=key_max,
            cbar=False, xticklabels=False, yticklabels=False)
ax_k.set_xticks([(v + key_max) / key_step for v in key_ticks])
ax_k.set_xticklabels(["-0.5", "0", "0.5"])
ax_k.tick_params(axis='x', length=36, width=2.4, pad=42, labelsize=50, bottom=True, labelrotation=0, color='black',
                 labelcolor='black')
ax_k.spines['bottom'].set_visible(True)
ax_k.spines['bottom'].set_linewidth(4.5)
ax_k.spines['bottom'].set_color('black')

px_text(3377, 150, "Correlation Heatmap", fontsize=107, fontweight='bold', ha='center', va='center', color='black')
px_text(938, 1272, "Color Key", fontsize=63, fontweight='bold', ha='center', va='center', color='black')
px_text(953, 1728, "Value", fontsize=50, ha='center', va='center', color='black')
px_text(5285, 1804, "Proteins", fontsize=79, family='Lato', ha='left', va='center', color='black')
px_text(695, 6622, "Frailty Features", fontsize=78, family='Lato', ha='left', va='center', color='black')

fig.savefig("out.png", dpi=SAVE_DPI)
